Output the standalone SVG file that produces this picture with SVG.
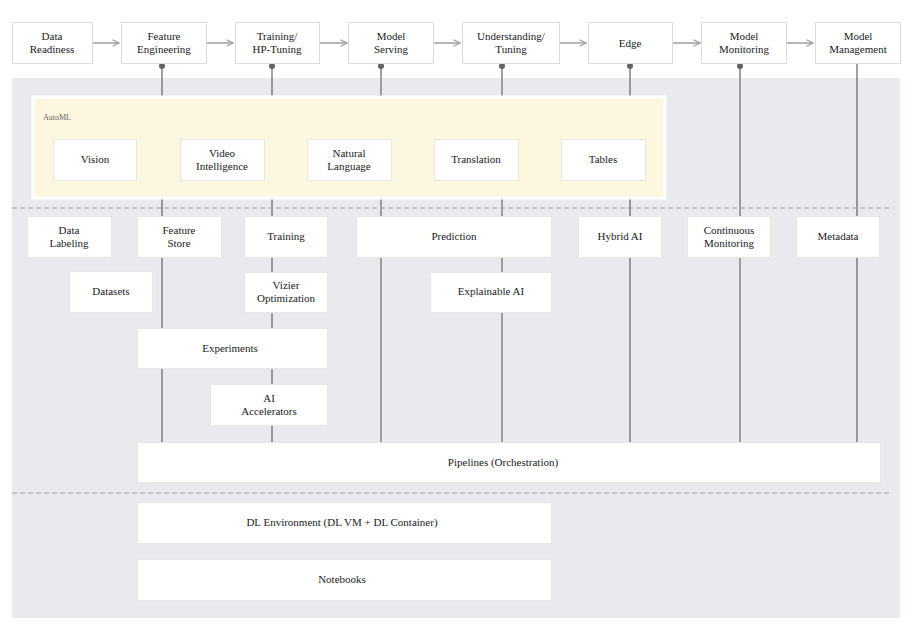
<svg xmlns="http://www.w3.org/2000/svg" width="922" height="640" viewBox="0 0 922 640">
<defs>
<style>
.bg{fill:#ffffff}
.panel{fill:#e8eaed}
.top{fill:#ffffff;stroke:#dadce0;stroke-width:1}
.box{fill:#ffffff;stroke:#e6e6e6;stroke-width:1}
.automl{fill:#fef7e0;stroke:#ffffff;stroke-width:3}
.t{font-family:"Times New Roman","Liberation Serif","DejaVu Serif",serif;font-size:11px;fill:#202124;text-anchor:middle}
.lbl{font-family:"Times New Roman","Liberation Serif","DejaVu Serif",serif;font-size:8px;fill:#5f6368;text-anchor:start}
.flow{stroke:#9e9e9e;stroke-width:1.5;fill:none}
.thin{stroke:#616161;stroke-width:1.2;fill:none}
.thick{stroke:#9e9e9e;stroke-width:2;fill:none}
.dash{stroke:#9e9e9e;stroke-width:1;stroke-dasharray:5 3;fill:none}
.dot{fill:#5f6368}
</style>
<marker id="arr" viewBox="0 0 10 10" refX="9" refY="5" markerWidth="8" markerHeight="8" markerUnits="userSpaceOnUse" orient="auto">
<path d="M1,1 L9,5 L1,9" fill="none" stroke="#9e9e9e" stroke-width="1.5"/>
</marker>
</defs>
<rect class="bg" x="0" y="0" width="922" height="640"/>
<rect class="panel" x="12" y="78" width="888" height="540"/>

<g id="connectors">
<line class="flow" x1="93" y1="43" x2="119" y2="43" marker-end="url(#arr)"/>
<line class="flow" x1="207" y1="43" x2="233" y2="43" marker-end="url(#arr)"/>
<line class="flow" x1="320" y1="43" x2="347" y2="43" marker-end="url(#arr)"/>
<line class="flow" x1="434" y1="43" x2="460" y2="43" marker-end="url(#arr)"/>
<line class="flow" x1="560" y1="43" x2="586" y2="43" marker-end="url(#arr)"/>
<line class="flow" x1="673" y1="43" x2="700" y2="43" marker-end="url(#arr)"/>
<line class="flow" x1="787" y1="43" x2="813" y2="43" marker-end="url(#arr)"/>
<line class="thin" x1="162" y1="66" x2="162" y2="442"/>
<line class="thin" x1="272" y1="66" x2="272" y2="442"/>
<line class="thick" x1="381" y1="66" x2="381" y2="442"/>
<line class="thick" x1="502" y1="66" x2="502" y2="442"/>
<line class="thin" x1="630" y1="66" x2="630" y2="442"/>
<line class="thick" x1="740" y1="66" x2="740" y2="442"/>
<line class="thin" x1="857" y1="60" x2="857" y2="442"/>
<circle class="dot" cx="162" cy="66" r="3"/>
<circle class="dot" cx="272" cy="66" r="3"/>
<circle class="dot" cx="381" cy="66" r="3"/>
<circle class="dot" cx="502" cy="66" r="3"/>
<circle class="dot" cx="630" cy="66" r="3"/>
<circle class="dot" cx="740" cy="66" r="3"/>
<circle class="dot" cx="857" cy="60" r="3"/>
<line class="dash" x1="12" y1="208" x2="890" y2="208"/>
<line class="dash" x1="12" y1="493" x2="890" y2="493"/>
</g>

<g id="data-readiness"><rect class="top" x="12.5" y="22.5" width="80" height="41"/><text class="t" x="52" y="40">Data</text><text class="t" x="52" y="53">Readiness</text></g>
<g id="feature-engineering"><rect class="top" x="121.5" y="22.5" width="85" height="41"/><text class="t" x="164" y="40">Feature</text><text class="t" x="164" y="53">Engineering</text></g>
<g id="training-hp"><rect class="top" x="235.5" y="22.5" width="84" height="41"/><text class="t" x="277" y="40">Training/</text><text class="t" x="277" y="53">HP-Tuning</text></g>
<g id="model-serving"><rect class="top" x="348.5" y="22.5" width="85" height="41"/><text class="t" x="391" y="40">Model</text><text class="t" x="391" y="53">Serving</text></g>
<g id="understanding"><rect class="top" x="462.5" y="22.5" width="97" height="41"/><text class="t" x="511" y="40">Understanding/</text><text class="t" x="511" y="53">Tuning</text></g>
<g id="edge"><rect class="top" x="588.5" y="22.5" width="84" height="41"/><text class="t" x="630" y="47">Edge</text></g>
<g id="model-monitoring"><rect class="top" x="701.5" y="22.5" width="85" height="41"/><text class="t" x="744" y="40">Model</text><text class="t" x="744" y="53">Monitoring</text></g>
<g id="model-management"><rect class="top" x="815.5" y="22.5" width="85" height="41"/><text class="t" x="858" y="40">Model</text><text class="t" x="858" y="53">Management</text></g>

<g id="automl">
<rect class="automl" x="33" y="97" width="632" height="101"/>
<text class="lbl" x="43" y="120">AutoML</text>
</g>
<g id="vision"><rect class="box" x="53.5" y="139.5" width="83" height="41"/><text class="t" x="95" y="163">Vision</text></g>
<g id="video-intelligence"><rect class="box" x="180.5" y="139.5" width="84" height="41"/><text class="t" x="222" y="157">Video</text><text class="t" x="222" y="170">Intelligence</text></g>
<g id="natural-language"><rect class="box" x="307.5" y="139.5" width="84" height="41"/><text class="t" x="349" y="157">Natural</text><text class="t" x="349" y="170">Language</text></g>
<g id="translation"><rect class="box" x="434.5" y="139.5" width="84" height="41"/><text class="t" x="476" y="163">Translation</text></g>
<g id="tables"><rect class="box" x="561.5" y="139.5" width="84" height="41"/><text class="t" x="603" y="163">Tables</text></g>

<g id="data-labeling"><rect class="box" x="27.5" y="216.5" width="84" height="41"/><text class="t" x="69" y="234">Data</text><text class="t" x="69" y="247">Labeling</text></g>
<g id="feature-store"><rect class="box" x="137.5" y="216.5" width="84" height="41"/><text class="t" x="179" y="234">Feature</text><text class="t" x="179" y="247">Store</text></g>
<g id="training"><rect class="box" x="244.5" y="216.5" width="83" height="41"/><text class="t" x="286" y="240">Training</text></g>
<g id="prediction"><rect class="box" x="356.5" y="216.5" width="195" height="41"/><text class="t" x="454" y="240">Prediction</text></g>
<g id="hybrid-ai"><rect class="box" x="578.5" y="216.5" width="83" height="41"/><text class="t" x="620" y="240">Hybrid AI</text></g>
<g id="continuous-monitoring"><rect class="box" x="687.5" y="216.5" width="83" height="41"/><text class="t" x="729" y="234">Continuous</text><text class="t" x="729" y="247">Monitoring</text></g>
<g id="metadata"><rect class="box" x="796.5" y="216.5" width="83" height="41"/><text class="t" x="838" y="240">Metadata</text></g>

<g id="datasets"><rect class="box" x="69.5" y="271.5" width="83" height="41"/><text class="t" x="111" y="295">Datasets</text></g>
<g id="vizier"><rect class="box" x="244.5" y="272.5" width="83" height="40"/><text class="t" x="286" y="289">Vizier</text><text class="t" x="286" y="302">Optimization</text></g>
<g id="explainable-ai"><rect class="box" x="430.5" y="272.5" width="121" height="40"/><text class="t" x="491" y="295">Explainable AI</text></g>

<g id="experiments"><rect class="box" x="137.5" y="328.5" width="190" height="40"/><text class="t" x="230" y="352">Experiments</text></g>
<g id="ai-accelerators"><rect class="box" x="210.5" y="384.5" width="117" height="41"/><text class="t" x="269" y="402">AI</text><text class="t" x="269" y="415">Accelerators</text></g>

<g id="pipelines"><rect class="box" x="137.5" y="442.5" width="743" height="40"/><text class="t" x="503" y="466">Pipelines (Orchestration)</text></g>

<g id="dl-environment"><rect class="box" x="137.5" y="502.5" width="414" height="41"/><text class="t" x="342" y="526">DL Environment (DL VM + DL Container)</text></g>
<g id="notebooks"><rect class="box" x="137.5" y="559.5" width="414" height="41"/><text class="t" x="342" y="583">Notebooks</text></g>
</svg>
